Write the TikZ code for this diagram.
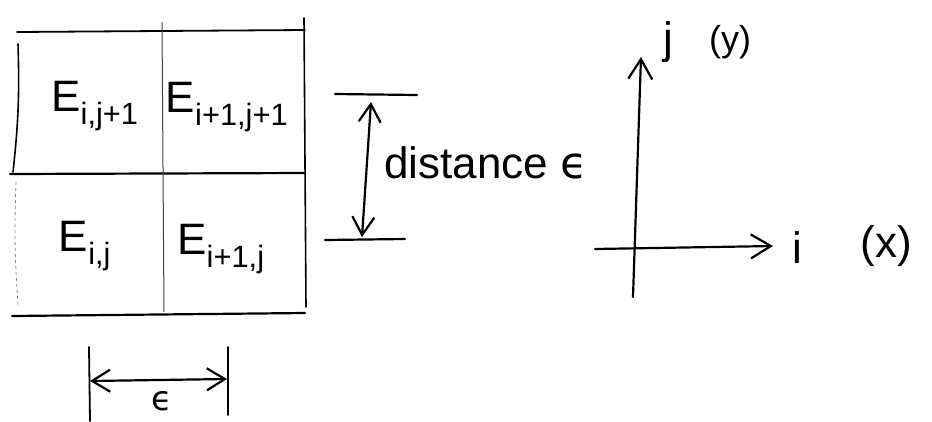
\documentclass[tikz,border=0pt]{standalone}
\usepackage{fontspec}
\setmainfont{Liberation Sans}
\newfontfamily\symfont{DejaVu Sans}
\usetikzlibrary{arrows.meta}
\begin{document}
\begin{tikzpicture}[x=1pt,y=-1pt,
  hand/.style={line width=2.2pt,line cap=round},
  faint/.style={line width=1pt,black!75},
  faintdot/.style={line width=0.8pt,black!45,dash pattern=on 3pt off 3pt},
  barb/.style={-{Straight Barb[length=20pt,width=24pt,line width=2.2pt]}},
  dbarb/.style={{Straight Barb[length=18pt,width=22pt,line width=2.2pt]}-{Straight Barb[length=18pt,width=22pt,line width=2.2pt]}},
  lbl/.style={font=\fontsize{44}{50}\selectfont,inner sep=0pt},
  small/.style={font=\fontsize{36}{40}\selectfont,inner sep=0pt}]
\useasboundingbox (0,0) rectangle (932,421);
% grid
\coordinate (tl) at (17,32); \coordinate (tr) at (305,30);
\coordinate (ml) at (10,174); \coordinate (mr) at (305,173);
\coordinate (bl) at (12,316); \coordinate (br) at (305,313);
\draw[hand,line width=1.8pt] (tl) -- (tr);
\draw[hand] (ml) -- (mr);
\draw[hand] (bl) -- (br);
\draw[hand,line width=1.6pt] (18,44) to[bend left=4] (13,172);
\draw[faintdot] (16,182) to[bend right=3] (18,305);
\draw[faint] (162,22) -- (164,312);
\draw[hand,line width=1.6pt] (304,18) -- (306,307);
\node[lbl] (c11) at (95,106) {E\textsubscript{i,j+1}};
\node[lbl] (c21) at (227,107) {E\textsubscript{i+1,j+1}};
\node[lbl] (c10) at (85,246) {E\textsubscript{i,j}};
\node[lbl] (c20) at (221,249) {E\textsubscript{i+1,j}};
% epsilon bracket
\coordinate (el1) at (89,347); \coordinate (el2) at (90,421);
\coordinate (er1) at (228,347); \coordinate (er2) at (228,415);
\draw[hand,line width=1.8pt] (el1) -- (el2);
\draw[hand,line width=1.8pt] (er1) -- (er2);
\coordinate (ea) at (90,381); \coordinate (eb) at (227,379);
\draw[hand,dbarb] (ea) -- (eb);
\node[lbl,anchor=base,font=\symfont\fontsize{34}{40}\selectfont] (eps) at (162,410) {ϵ};
% distance
\coordinate (dt1) at (335,94); \coordinate (dt2) at (417,95);
\coordinate (db1) at (325,240); \coordinate (db2) at (405,239);
\draw[hand] (dt1) -- (dt2);
\draw[hand] (db1) -- (db2);
\coordinate (da) at (371,102); \coordinate (db) at (362,237);
\draw[hand,dbarb] (db) -- (da);
\node[lbl,anchor=base west] (dist) at (384,178) {distance {\symfont ϵ}};
% axes
\coordinate (yb) at (633,297); \coordinate (yt) at (641,57);
\coordinate (xl) at (595,249); \coordinate (xr) at (773,246);
\draw[hand,barb] (yb) -- (yt);
\draw[hand,barb] (xl) -- (xr);
\node[lbl] (jl) at (668,42) {j};
\node[small] (yl) at (730,42) {(y)};
\node[lbl] (il) at (797,248) {i};
\node[lbl] (xlab) at (886,246) {(x)};
\end{tikzpicture}
\end{document}
